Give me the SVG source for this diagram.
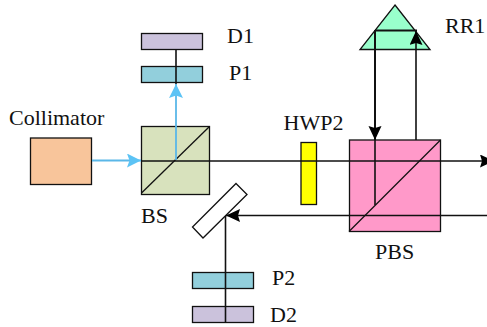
<svg xmlns="http://www.w3.org/2000/svg" width="487" height="327" viewBox="0 0 487 327">
<style>
text{font-family:"Liberation Serif","Times New Roman",serif;font-size:22px;fill:#111}
.s{stroke:#111;stroke-width:1.3}
.b{fill:none;stroke:#111;stroke-width:1.6}
.c{fill:none;stroke:#5ab7e8;stroke-width:1.8}
</style>
<defs>
<marker id="k" markerUnits="userSpaceOnUse" markerWidth="15" markerHeight="14" refX="14" refY="6.500" orient="auto"><path d="M0 0L14 6.500L0 13L2 6.500Z" fill="#000"/></marker>
<marker id="u" markerUnits="userSpaceOnUse" markerWidth="15" markerHeight="15" refX="14" refY="7" orient="auto"><path d="M0 0L14 7L0 14L2.500 7Z" fill="#5cc3f5"/></marker>
</defs>
<g id="D1"><rect class="s" x="141.500" y="33.500" width="61" height="16" fill="#cbc2dc"/><text x="227" y="43">D1</text></g>
<g id="P1"><rect class="s" x="141.500" y="66.500" width="61" height="16" fill="#92cfdc"/><text x="229" y="80">P1</text></g>
<g id="Collimator"><rect class="s" x="30.500" y="138" width="61" height="46.500" fill="#f8c59b"/><text x="9" y="125">Collimator</text></g>
<g id="BS"><rect class="s" x="141.500" y="126.500" width="68" height="68" fill="#d8e2bd"/><path class="s" d="M141.500 193L209.500 126.500" fill="none"/><text x="141" y="223">BS</text></g>
<g id="HWP2"><rect class="s" x="301" y="142.500" width="15.500" height="62" fill="#ffff00"/><text x="283.500" y="130">HWP2</text></g>
<g id="PBS"><rect class="s" x="349.500" y="140" width="91" height="91.500" fill="#ff99c9"/><path class="s" d="M349 231.500L440.500 140" fill="none"/><text x="375" y="259">PBS</text></g>
<g id="RR1"><path class="s" d="M395 5L430 49.500H360Z" fill="#99ffcc" stroke-width="1"/><text x="445" y="33">RR1</text></g>
<g id="M"><path class="s" d="M236 183.500L247 194.500L203 238L192.500 227Z" fill="#fff"/></g>
<g id="P2"><rect class="s" x="192.500" y="272.500" width="61" height="16" fill="#92cfdc"/><text x="272" y="285">P2</text></g>
<g id="D2"><rect class="s" x="192.500" y="306.500" width="61" height="16" fill="#cbc2dc"/><text x="270" y="322">D2</text></g>
<g id="connectors">
<path class="b" d="M176 50V84"/>
<path class="c" d="M176 160V84" marker-end="url(#u)"/>
<path class="c" d="M92 160.500H141" marker-end="url(#u)"/>
<path class="b" d="M141 161H494" marker-end="url(#k)"/>
<path class="b" d="M487 215.500H226" marker-end="url(#k)"/>
<path class="b" d="M225.500 216V322"/>
<path class="b" style="stroke-width:2" d="M375 30V140" marker-end="url(#k)"/>
<path class="b" d="M375 140V205"/>
<path class="b" d="M416 140V31" marker-end="url(#k)"/>
<path class="b" style="stroke-width:2" d="M375 30.500H417"/>
</g>
</svg>
